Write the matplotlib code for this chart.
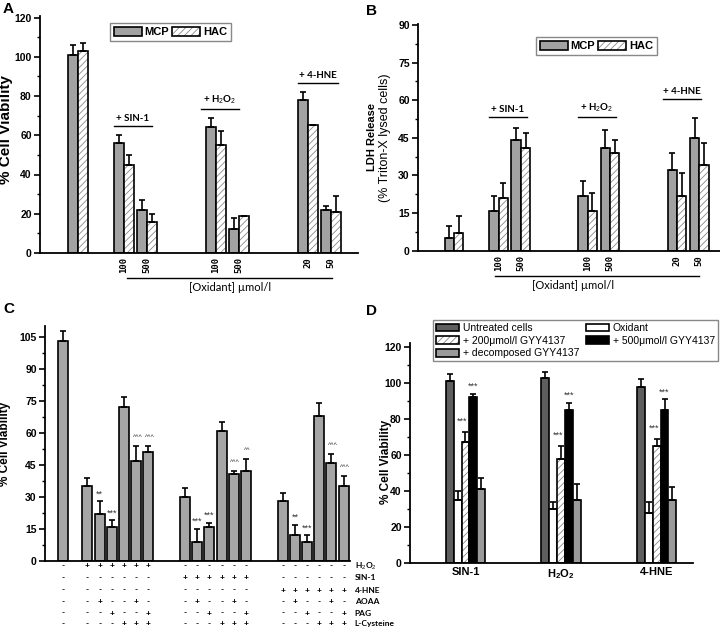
import numpy as np
import matplotlib.pyplot as plt
from matplotlib.ticker import MultipleLocator
from matplotlib.patches import Patch

plt.rcParams['font.family'] = ['Liberation Sans', 'DejaVu Sans']
plt.rcParams['mathtext.fontset'] = 'custom'
plt.rcParams['mathtext.rm'] = 'Liberation Sans'
plt.rcParams['mathtext.bf'] = 'Liberation Sans:bold'
plt.rcParams['hatch.color'] = '#8a8a8a'
plt.rcParams['hatch.linewidth'] = 0.6
plt.rcParams['axes.linewidth'] = 1.3

# ---- panel A : cell viability, MCP vs HAC
a_pos = [0, 2, 3, 6, 7, 10, 11]
a_conc = ['', '100', '500', '100', '500', '20', '50']
a_mcp = [101, 56, 22, 64, 12, 78, 22]
a_mcp_err = [5, 4, 5, 5, 6, 4, 2]
a_hac = [103, 45, 16, 55, 19, 65, 21]
a_hac_err = [4, 5, 4, 7, 0, 0, 8]

# ---- panel B : LDH release
b_mcp = [5, 16, 44, 22, 41, 32, 45]
b_mcp_err = [5, 6, 5, 6, 7, 7, 8]
b_hac = [7, 21, 41, 16, 39, 22, 34]
b_hac_err = [7, 6, 6, 7, 5, 9, 9]

# ---- panel C : inhibitors / L-cysteine
c_pos = [0] + list(range(2, 8)) + list(range(10, 16)) + list(range(18, 24))
c_vals = [103, 35, 22, 16, 72, 47, 51, 30, 9, 16, 61, 41, 42, 28, 12, 9, 68, 46, 35]
c_err = [5, 4, 6, 3, 5, 7, 3, 4, 6, 2, 4, 1, 6, 4, 5, 3, 6, 4, 5]
c_sig = ['', '', '**', '***', '', '^^^', '^^^', '', '***', '***', '', '^^^', '^^',
         '', '**', '***', '', '^^^', '^^^']
c_rows = ['H$_2$O$_2$', 'SIN-1', '4-HNE', 'AOAA', 'PAG', 'L-Cysteine']
c_signs = ['-' + '++++++' + '------' + '------',
           '-' + '------' + '++++++' + '------',
           '-' + '------' + '------' + '++++++',
           '-' + '-+--+-' * 3,
           '-' + '--+--+' * 3,
           '-' + '---+++' * 3]

# ---- panel D : GYY4137
d_groups = ['SIN-1', 'H$_\\mathbf{2}$O$_\\mathbf{2}$', '4-HNE']
d_names = ['Untreated cells', '+ 200\u03bcmol/l GYY4137', '+ decomposed GYY4137',
           'Oxidant', '+ 500\u03bcmol/l GYY4137']
d_untreated = [101, 103, 98]
d_untreated_err = [4, 3, 4]
d_oxidant = [35, 30, 28]
d_oxidant_err = [5, 4, 6]
d_200 = [67, 58, 65]
d_200_err = [6, 7, 4]
d_500 = [92, 85, 85]
d_500_err = [2, 4, 6]
d_dec = [41, 35, 35]
d_dec_err = [6, 9, 7]

GRAY = '#a2a2a2'
W, H = 720, 630


def add_ax(left, right, zero, scale, ymax):
    top = zero - ymax * scale
    return fig.add_axes([left / W, 1 - zero / H, (right - left) / W, (zero - top) / H])


def style(ax, ymax, major, minor):
    ax.spines[['top', 'right']].set_visible(False)
    ax.set_ylim(0, ymax)
    ticks = np.arange(0, ymax + 0.01, major)
    ax.set_yticks(ticks, [f'{t:g}' for t in ticks], fontweight='bold', fontsize=7.5)
    ax.yaxis.set_minor_locator(MultipleLocator(minor))
    ax.tick_params(axis='y', which='major', length=4, width=1.2, pad=2)
    ax.tick_params(axis='y', which='minor', length=2, width=1)
    ax.tick_params(axis='x', length=0)


def bars(ax, x, y, err, w, color='white', hatch=None):
    if hatch:
        ax.bar(x, y, w, color='white', edgecolor=plt.rcParams['hatch.color'], lw=0, hatch=hatch)
        ax.bar(x, y, w, fill=False, edgecolor='k', lw=1.2)
    else:
        ax.bar(x, y, w, color=color, edgecolor='k', lw=1.2)
    ax.errorbar(x, y, yerr=[np.zeros(len(y)), err], fmt='none', ecolor='k',
                elinewidth=1.2, capsize=2.3, capthick=1.2)


fig = plt.figure(figsize=(7.2, 6.3), dpi=100)

axA = add_ax(40, 358, 253, 1.9625, 121)
axB = add_ax(418, 720, 250.7, 2.507, 90.5)
axC = add_ax(45, 350, 561, 2.133, 110)
axD = add_ax(410, 693, 563, 1.8, 122)

hatch_handle = (Patch(facecolor='white', edgecolor='#8a8a8a', lw=0, hatch='/////'),
                Patch(fill=False, edgecolor='k', lw=1.2))
gray_handle = Patch(facecolor=GRAY, edgecolor='k', lw=1.2)

# ---------- A / B
bw = 0.42
for ax, mcp, me, hac, he, ymax, maj, mino in [
        (axA, a_mcp, a_mcp_err, a_hac, a_hac_err, 121, 20, 10),
        (axB, b_mcp, b_mcp_err, b_hac, b_hac_err, 90.5, 15, 7.5)]:
    x = np.array(a_pos, dtype=float)
    bars(ax, x - bw / 2, mcp, me, bw, GRAY)
    bars(ax, x + bw / 2, hac, he, bw, hatch='/////')
    style(ax, ymax, maj, mino)
    ax.set_xticks(a_pos[1:], a_conc[1:], rotation=90, fontfamily='DejaVu Sans Mono',
                  fontweight='bold', fontsize=6.5)
    ax.tick_params(axis='x', pad=3)

axA.set_xlim(-1.65, 12.17)
axB.set_xlim(-1.61, 11.93)

axA.set_ylabel('% Cell Viability', fontsize=11, fontweight='bold')
axA.yaxis.set_label_coords(-0.085, 0.52)
axB.text(-0.152, 0.5, 'LDH Release', transform=axB.transAxes, rotation=90,
         ha='center', va='center', fontsize=8, fontweight='bold')
axB.text(-0.11, 0.5, '(% Triton-X lysed cells)', transform=axB.transAxes, rotation=90,
         ha='center', va='center', fontsize=9)

grp_lbl = ['+ SIN-1', '+ H$_2$O$_2$', '+ 4-HNE']
for ax, spans, ys, bl, lx in [
        (axA, [(1.57, 3.2), (5.35, 7.0), (9.57, 11.3)], [64.7, 73.4, 86.6], (2.13, 11.04), 6.6),
        (axB, [(1.57, 3.27), (5.56, 7.26), (9.37, 11.1)], [53.3, 53.3, 60.5], (1.84, 11.0), 5.34)]:
    for (x0, x1), yl, t in zip(spans, ys, grp_lbl):
        ax.plot([x0, x1], [yl, yl], color='k', lw=1, clip_on=False)
        ax.text((x0 + x1) / 2, yl + 1.5 * (ax.get_ylim()[1] / 120), t, ha='center', va='bottom',
                fontsize=7, fontweight='bold', family='Lato')
    tr = ax.get_xaxis_transform()
    yb = -0.106 if ax is axA else -0.112
    ax.plot(bl, [yb, yb], color='k', lw=1, transform=tr, clip_on=False)
    ax.text(lx, yb - 0.04, '[Oxidant] \u00b5mol/l', transform=tr, ha='center', va='center',
            fontsize=8, family='Lato')

leg_kw = dict(ncol=2, loc='upper left', bbox_transform=fig.transFigure,
              prop={'weight': 'bold', 'size': 8}, handlelength=2.5, handleheight=0.9,
              handletextpad=0.25, columnspacing=0.3, borderpad=0.35, borderaxespad=0,
              fancybox=False, edgecolor='#888888', framealpha=1)
axA.legend([gray_handle, hatch_handle], ['MCP', 'HAC'],
           bbox_to_anchor=(110 / W, 1 - 23 / H), **leg_kw)
axB.legend([gray_handle, hatch_handle], ['MCP', 'HAC'],
           bbox_to_anchor=(536 / W, 1 - 37 / H), **leg_kw)

# ---------- C
bars(axC, c_pos, c_vals, c_err, 0.82, '#a6a6a6')
style(axC, 110, 15, 7.5)
axC.set_xticks([])
axC.set_xlim(-1.48, 23.52)
axC.set_ylabel('% Cell Viability', fontsize=8.5, fontweight='bold')
axC.yaxis.set_label_coords(-0.11, 0.5)
for x, v, e, s in zip(c_pos, c_vals, c_err, c_sig):
    if s.startswith('^'):
        axC.text(x + 0.1, v + e + 4, s, ha='center', va='center', fontsize=5, color='#333333')
    elif s:
        axC.text(x, v + e + 3.5, s, ha='center', va='center', fontsize=6.5, color='#333333')
trC = axC.get_xaxis_transform()
row_y = [-0.021, -0.072, -0.124, -0.172, -0.222, -0.268]
for ry, name, signs in zip(row_y, c_rows, c_signs):
    for x, s in zip(c_pos, signs):
        axC.text(x, ry, s, transform=trC, ha='center', va='center', fontsize=6,
                 fontweight='bold', family='Lato')
    axC.text(23.9, ry, name, transform=trC, ha='left', va='center', fontsize=6,
             fontweight='bold', family='Lato')

# ---------- D
dw = 0.082
xd = np.arange(1, 4)
bars(axD, xd - 2 * dw, d_untreated, d_untreated_err, dw, '#5e5e5e')
bars(axD, xd - dw, d_oxidant, d_oxidant_err, dw, 'white')
bars(axD, xd, d_200, d_200_err, dw, hatch='/////')
bars(axD, xd + dw, d_500, d_500_err, dw, 'black')
bars(axD, xd + 2 * dw, d_dec, d_dec_err, dw, '#9a9a9a')
style(axD, 122, 20, 10)
axD.set_xlim(0.42, 3.38)
axD.set_xticks(xd, d_groups, fontweight='bold', fontsize=8)
axD.tick_params(axis='x', pad=3)
axD.set_ylabel('% Cell Viability', fontsize=8.5, fontweight='bold')
axD.yaxis.set_label_coords(-0.065, 0.46)
for i in range(3):
    axD.text(xd[i] - 0.03, d_200[i] + d_200_err[i] + 6, '***', ha='center', va='center',
             fontsize=6.5, color='#333333')
    axD.text(xd[i] + dw, d_500[i] + d_500_err[i] + 4, '***', ha='center', va='center',
             fontsize=6.5, color='#333333')

d_handles = [Patch(facecolor='#5e5e5e', edgecolor='k', lw=1.2), hatch_handle,
             Patch(facecolor='#9a9a9a', edgecolor='k', lw=1.2),
             Patch(facecolor='white', edgecolor='k', lw=1.2),
             Patch(facecolor='black', edgecolor='k', lw=1.2)]
axD.legend(d_handles, d_names, ncol=2, loc='upper left',
           bbox_to_anchor=(433 / W, 1 - 320 / H), bbox_transform=fig.transFigure,
           prop={'size': 7.5}, handlelength=2.2, handleheight=0.8, labelspacing=0.25,
           handletextpad=0.4, columnspacing=0.6, borderpad=0.3, borderaxespad=0,
           fancybox=False, edgecolor='#888888', framealpha=1)

for lbl, (px, py) in zip('ABCD', [(3, 2), (366, 4), (3, 302), (366, 304)]):
    fig.text(px / W, 1 - py / H, lbl, ha='left', va='top', fontsize=11, fontweight='bold')

fig.savefig('out.png', dpi=100)
